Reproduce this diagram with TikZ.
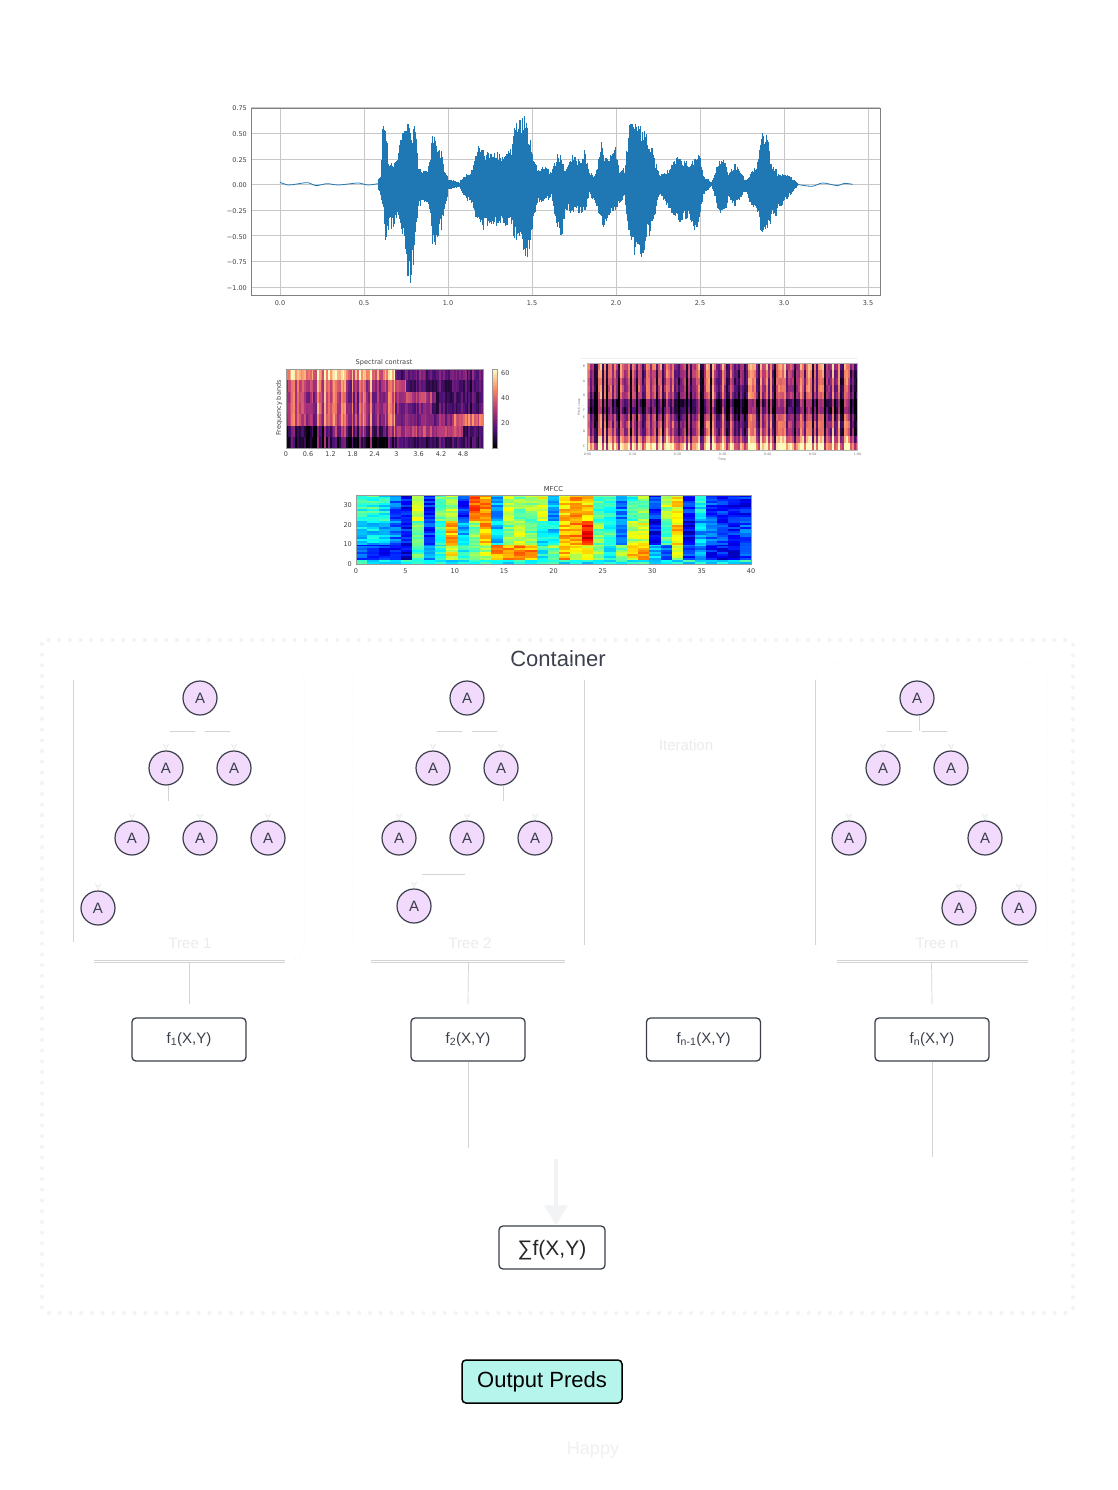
\documentclass[tikz,border=0pt]{standalone}
\usepackage{fontspec}
\setmainfont{Liberation Sans}
\newfontfamily\plotfont{DejaVu Sans}
\usetikzlibrary{arrows.meta,calc}

% colour ramps of the three heat maps
\definecolor{mag0}{HTML}{000004}
\definecolor{mag1}{HTML}{51127C}
\definecolor{mag2}{HTML}{B73779}
\definecolor{mag3}{HTML}{FC8961}
\definecolor{mag4}{HTML}{FCFDBF}
\definecolor{jet0}{HTML}{00007F}
\definecolor{jet1}{HTML}{0000FF}
\definecolor{jet2}{HTML}{007FFF}
\definecolor{jet3}{HTML}{00FFFF}
\definecolor{jet4}{HTML}{7FFF7F}
\definecolor{jet5}{HTML}{FFFF00}
\definecolor{jet6}{HTML}{FF7F00}
\definecolor{jet7}{HTML}{FF0000}
\definecolor{jet8}{HTML}{7F0000}
\definecolor{waveblue}{HTML}{1F77B4}
\definecolor{inkgrey}{HTML}{3A3F4B}
\definecolor{nodepink}{HTML}{F1DAFB}
\definecolor{predteal}{HTML}{B6F5EC}
\definecolor{palegrey}{HTML}{F2F3F5}

\newcommand{\setramp}[3]{%
  \pgfmathsetmacro{\rampv}{min(max(#3,0),.999)*#2}%
  \pgfmathtruncatemacro{\rampi}{floor(\rampv)}%
  \pgfmathtruncatemacro{\rampj}{\rampi+1}%
  \pgfmathsetmacro{\rampp}{(\rampv-\rampi)*100}%
  \colorlet{cellc}{#1\rampj!\rampp!#1\rampi}}

\tikzset{
  leaf/.style={circle,draw=inkgrey,line width=1.2pt,fill=nodepink,minimum size=34pt,
    inner sep=0pt,font=\fontsize{15}{15}\selectfont,text=inkgrey},
  fbox/.style={rectangle,rounded corners=4pt,draw=inkgrey,line width=1.3pt,fill=white,
    minimum width=114pt,minimum height=43pt,inner sep=0pt,font=\fontsize{15}{15}\selectfont,text=inkgrey},
  treeframe/.style={rectangle,rounded corners=20pt,draw=black!2,dashed,line width=.7pt,
    minimum width=231pt,minimum height=300pt,inner sep=0pt},
  edgeseen/.style={draw=black!17,line width=.7pt},
  edgefaint/.style={draw=white,line width=.8pt,-{Stealth[open,length=7pt,width=7pt,color=black!7]}},
  palelabel/.style={text=black!8,font=\fontsize{15}{15}\selectfont,inner sep=0pt},
  tick/.style={font=\plotfont\fontsize{6.5}{6.5}\selectfont,text=black!75,inner sep=0pt},
  tinytick/.style={font=\plotfont\fontsize{3.2}{3.2}\selectfont,text=black!55,inner sep=0pt},
  wavestroke/.style={draw=waveblue,line width=1.15pt}
}

\begin{document}
\begin{tikzpicture}[x=1pt,y=-1pt]
  \useasboundingbox[fill=white] (0,0) rectangle (1117,1490);
  \pgfmathsetseed{4711}

  % waveform axes
  \foreach \gx in {0,...,7}
    \draw[black!22,line width=.6pt] (280+84*\gx,108) -- (280+84*\gx,295);
  \foreach \gy/\gl [count=\gi] in {.75/0.75,.5/0.50,.25/0.25,0/0.00,-.25/−0.25,-.5/−0.50,-.75/−0.75,-1/−1.00} {
    \draw[black!22,line width=.6pt] (251,184.5-102.5*\gy) -- (880,184.5-102.5*\gy);
    \node[tick,anchor=east] (wavey\gi) at (247,185.5-102.5*\gy) {\gl};
  }
  \foreach \gx/\gl [count=\gi] in {0/0.0,1/0.5,2/1.0,3/1.5,4/2.0,5/2.5,6/3.0,7/3.5}
    \node[tick] (wavex\gi) at (280+84*\gx,303) {\gl};

  % waveform, in the pixels of a 2.34 x 3 crop
  \begin{scope}[shift={(220,95)},x=.4274pt,y=-.3333pt]
    \draw[wavestroke,line width=.8pt] plot[smooth] coordinates {(140,262) (160,270) (180,267) (205,263) (225,272) (250,266) (275,270) (300,267) (325,264) (345,270) (370,266) (378,262)};
    \draw[wavestroke,line width=.8pt] plot[smooth] coordinates {(1350,268) (1385,274) (1410,264) (1445,272) (1460,265) (1480,268)};
    \foreach \wx/\wt/\wb [remember=\wx as \prevx (initially 368),remember=\wt as \prevt (initially 262),remember=\wb as \prevb (initially 274)] in
      {376/245/300,380/95/330,388/75/430,395/190/400,405/215/390,415/190/370,425/130/400,432/90/450,442/66/575,
       450/105/530,458/90/420,465/210/340,475/230/325,485/225/320,492/170/380,500/112/460,508/170/430,518/170/400,
       525/220/345,535/250/285,560/262/275,572/240/310,585/240/318,595/200/350,605/160/380,615/170/400,630/175/390,
       650/170/390,665/190/390,680/165/395,690/90/430,700/85/430,712/65/470,722/105/490,730/170/400,745/225/320,
       760/215/320,775/230/305,790/180/390,800/190/420,810/230/340,820/185/350,830/180/350,840/200/355,853/170/355,
       865/235/300,880/240/330,892/145/385,900/190/395,912/190/350,925/155/350,935/225/330,948/220/300,958/95/450,
       968/95/470,978/95/480,990/110/470,1000/120/430,1015/180/380,1028/240/300,1040/235/320,1055/215/350,1070/185/375,
       1085/195/375,1100/210/370,1110/190/405,1122/175/380,1130/240/300,1150/262/275,1165/210/340,1180/185/360,
       1190/235/310,1205/210/330,1215/220/320,1228/255/285,1240/240/320,1255/210/345,1268/115/425,1280/130/400,
       1290/200/375,1305/235/350,1320/235/320,1335/245/300,1350/262/274} {
      \pgfmathtruncatemacro{\nsteps}{max(1,(\wx-\prevx)/2)}
      \foreach \si in {1,...,\nsteps} {
        \pgfmathsetmacro{\sf}{\si/\nsteps}
        \pgfmathsetmacro{\sx}{\prevx+\sf*(\wx-\prevx)}
        \pgfmathsetmacro{\stop}{268-(268-\prevt-\sf*(\wt-\prevt))*(.74+.32*rnd)}
        \pgfmathsetmacro{\sbot}{268+(\prevb+\sf*(\wb-\prevb)-268)*(.74+.32*rnd)}
        \draw[wavestroke] (\sx,\stop) -- (\sx,\sbot);
      }
    }
  \end{scope}
  \draw[black!50,line width=.7pt] (251,108) rectangle (880,295);

  % spectral contrast
  \foreach \cc in {0,...,107} {
    \pgfmathsetmacro{\cv}{rnd}
    \foreach \rr/\ba/\bb/\bc/\bn in {0/.84/.28/.3/60,1/.62/.14/.2/66,2/.56/.5/.2/82,3/.58/.34/.2/82,4/.58/.36/.62/92,5/.4/.52/.18/97,6/.16/.26/.2/70} {
      \ifnum\cc<60 \def\rv{\ba}\else\ifnum\cc<\bn\relax \def\rv{\bb}\else\def\rv{\bc}\fi\fi
      \ifnum\rr=1 \ifnum\cc<66 \def\rv{\ba}\fi\fi
      \ifnum\rr=5 \ifnum\cc<27 \def\rv{.2}\fi\fi
      \ifnum\cc<60 \def\cw{.55}\else\def\cw{.16}\fi
      \setramp{mag}{4}{\rv+\cw*(\cv-.5)+.18*(rnd-.5)}
      \fill[cellc] (286+1.824*\cc,369+11.3*\rr) rectangle +(2.1,11.5);
    }
  }
  \foreach \rr in {0,...,39} {
    \setramp{mag}{4}{1-\rr/39}
    \fill[cellc] (492,369+2*\rr) rectangle +(5,2.2);
  }
  \draw[black!40,line width=.4pt] (286,369) rectangle (483,448);
  \draw[black!40,line width=.4pt] (492,369) rectangle (497,448);
  \node[tick,font=\plotfont\fontsize{6.6}{6.6}\selectfont] (contrasttitle) at (384,363) {Spectral contrast};
  \node[tick,rotate=90] (contrastylabel) at (279,408) {Frequency bands};
  \foreach \tx/\tl [count=\ti] in {286/0,308/0.6,330.5/1.2,352.5/1.8,374.5/2.4,396.5/3,418.5/3.6,441/4.2,463/4.8}
    \node[tick] (contrastx\ti) at (\tx,454) {\tl};
  \foreach \ty/\tl [count=\ti] in {373/60,398/40,423/20}
    \node[tick,anchor=west] (contrastbar\ti) at (501,\ty) {\tl};

  % chromagram
  \draw[black!6,line width=.6pt] (580,358) -- (858,358);
  \foreach \cc in {0,...,134} {
    \pgfmathsetmacro{\cv}{rnd}
    \foreach \rr/\ba in {0/.5,1/.44,2/.42,3/.42,4/.4,5/.17,6/.17,7/.36,8/.42,9/.42,10/.6,11/.84} {
      \setramp{mag}{4}{\ba+.8*(\cv-.5)+.18*(rnd-.5)}
      \fill[cellc] (587.5+2*\cc,363+7.25*\rr) rectangle +(2.2,7.45);
    }
  }
  \draw[black!30,line width=.4pt] (587.5,363) rectangle (857.5,450);
  \foreach \ty/\tl [count=\ti] in {366/B,381/A,395/G,410/F,417/E,431/D,446/C}
    \node[tinytick] (chromay\ti) at (584,\ty) {\tl};
  \foreach \tx/\tl [count=\ti] in {587.5/0:00,632.5/0:10,677.5/0:20,722.5/0:30,767.5/0:40,812.5/0:50,857.5/1:00}
    \node[tinytick] (chromax\ti) at (\tx,454) {\tl};
  \node[tinytick] (chromatime) at (722,459) {Time};
  \node[tinytick,rotate=90] (chromapitch) at (579,407) {Pitch class};

  % MFCC
  \foreach \vt/\vm/\vb [count=\ci from 0] in {.42/.33/.2,.42/.33/.17,.38/.3/.13,.22/.25/.13,.12/.15/.1,.58/.47/.45,.14/.17/.28,
      .47/.42/.4,.55/.7/.62,.17/.3/.4,.8/.5/.45,.72/.7/.55,.28/.33/.72,.55/.5/.72,.5/.55/.72,.5/.5/.72,.6/.35/.4,.28/.35/.5,
      .66/.68/.7,.7/.72/.62,.65/.88/.6,.42/.5/.55,.42/.42/.4,.25/.22/.5,.42/.55/.65,.5/.58/.7,.17/.12/.3,.55/.45/.2,
      .63/.66/.55,.17/.1/.2,.38/.3/.28,.2/.22/.12,.17/.17/.13,.13/.17/.1,.14/.22/.2} {
    \foreach \rr in {0,...,34} {
      \ifnum\rr<2 \def\rv{.38}\else\ifnum\rr<10 \def\rv{\vb}\else\ifnum\rr<22 \def\rv{\vm}\else\def\rv{\vt}\fi\fi\fi
      \setramp{jet}{8}{\rv+.16*(rnd-.5)}
      \fill[cellc] (356+11.286*\ci,562.03-1.971*\rr) rectangle +(11.5,2.2);
    }
  }
  \draw[black!40,line width=.4pt] (356,495) rectangle (751,564);
  \node[tick,font=\plotfont\fontsize{6.8}{6.8}\selectfont] (mfcctitle) at (553.5,489) {MFCC};
  \foreach \ty/\tl [count=\ti] in {564/0,544.6/10,525/20,505.5/30}
    \node[tick,anchor=east] (mfccy\ti) at (352,\ty) {\tl};
  \foreach \tk [count=\ti] in {0,5,...,40}
    \node[tick] (mfccx\ti) at (356+9.875*\tk,571) {\tk};

  % container and tree frames
  \draw[palegrey,line width=4pt,line cap=round,dash pattern=on 0pt off 10.7pt,rounded corners=4pt] (42,640) rectangle (1073,1313);
  \node[inner sep=0pt,font=\fontsize{22}{22}\selectfont,text=inkgrey] (container) at (558,659) {Container};
  \node[treeframe] (fr1) at (189,812) {};
  \node[treeframe] (fr2) at (468.5,812) {};
  \node[treeframe] (frn) at (931.5,812) {};
  \node[palelabel] (labelone) at (190,943) {Tree 1};
  \node[palelabel] (labeltwo) at (470,943) {Tree 2};
  \node[palelabel] (labeln) at (937,943) {Tree n};
  \node[palelabel] (iteration) at (686,745) {Iteration};
  \foreach \fa/\fb/\fc in {fr1/-95/96,fr2/-98/96,frn/-95/96} {
    \draw[edgeseen] ([xshift=\fb pt,yshift=2pt]\fa.south) -- ([xshift=\fc pt,yshift=2pt]\fa.south);
    \draw[edgeseen] ([xshift=\fb pt]\fa.south) -- ([xshift=\fc pt]\fa.south);
  }
  \draw[edgeseen] ([yshift=-18pt]fr1.north west) -- ([yshift=20pt]fr1.south west);
  \draw[edgeseen] ([yshift=-18pt]fr2.north east) -- ([yshift=17pt]fr2.south east);
  \draw[edgeseen] ([yshift=-18pt]frn.north west) -- ([yshift=17pt]frn.south west);

  % trees
  \foreach \tn/\tx/\ty in {oa/200/698,ob/166/768,oc/234/768,od/132/838,oe/200/838,of/268/838,og/98/908,
      ta/467/698,tb/433/768,tc/501/768,td/399/838,te/467/838,tf/535/838,tg/414/906,
      na/917/698,nb/883/768,nc/951/768,nd/849/838,ne/985/838,nf/959/908,ng/1019/908}
    \node[leaf] (\tn) at (\tx,\ty) {A};
  \foreach \pa/\ch in {oa/ob,oa/oc,ob/od,ob/oe,oc/of,od/og,ta/tb,ta/tc,tb/td,tb/te,tc/tf,te/tg,na/nb,na/nc,nb/nd,nc/ne,ne/nf,ne/ng}
    \draw[edgefaint] (\pa.south) |- ($(\pa.south)!.5!(\ch.north)$) -| (\ch.north);

  % the parts of the tree edges that show
  \coordinate (rowone) at (0,731);
  \coordinate (rowtwo) at (0,874);
  \foreach \pa/\ch in {oa/ob,oa/oc,ta/tb,ta/tc,na/nb,na/nc}
    \draw[edgeseen,shorten >=4pt,shorten <=5pt] (\pa |- rowone) -- (\ch |- rowone);
  \draw[edgeseen] ([xshift=2pt]ob.south) -- ++(0,15);
  \draw[edgeseen] ([xshift=2pt]tc.south) -- ++(0,15);
  \draw[edgeseen] ([xshift=2pt]na.south) -- ([xshift=2pt]na.south |- rowone);
  \draw[edgeseen,shorten >=2pt,shorten <=8pt] (tg |- rowtwo) -- (te |- rowtwo);

  % boxes
  \node[fbox] (f1) at (189,1039.5) {f\textsubscript{1}(X,Y)};
  \node[fbox] (f2) at (468,1039.5) {f\textsubscript{2}(X,Y)};
  \node[fbox] (fm) at (703.5,1039.5) {f\textsubscript{n-1}(X,Y)};
  \node[fbox] (fn) at (932,1039.5) {f\textsubscript{n}(X,Y)};
  \node[fbox,minimum width=106pt,font=\fontsize{21}{21}\selectfont,text=black!85] (fsum) at (552,1247.5) {\raisebox{-8pt}[0pt][0pt]{∑f(X,Y)}};
  \node[fbox,draw=black,line width=1.5pt,minimum width=160pt,fill=predteal,font=\fontsize{22}{22}\selectfont,text=black] (preds) at (542,1381.5) {Output Preds};
  \node[palelabel,font=\fontsize{18}{18}\selectfont,text=black!6] (happy) at (593,1450) {Happy};

  \foreach \fa/\fb in {fr1/f1,fr2/f2,frn/fn}
    \draw[edgeseen] (\fa.south) -- ([yshift=13pt]\fb.north);
  \coordinate (downtwo) at (468,1148);
  \coordinate (downn) at (932,1157);
  \coordinate (fadeend) at (556,1159);
  \draw[edgeseen] (f2.south) -- (downtwo);
  \draw[edgeseen] (fn.south) -- (downn);
  \draw[palegrey,line width=4pt,-{Triangle[length=20pt,width=23pt]}] (fadeend) -- (fadeend |- fsum.north);
\end{tikzpicture}
\end{document}
